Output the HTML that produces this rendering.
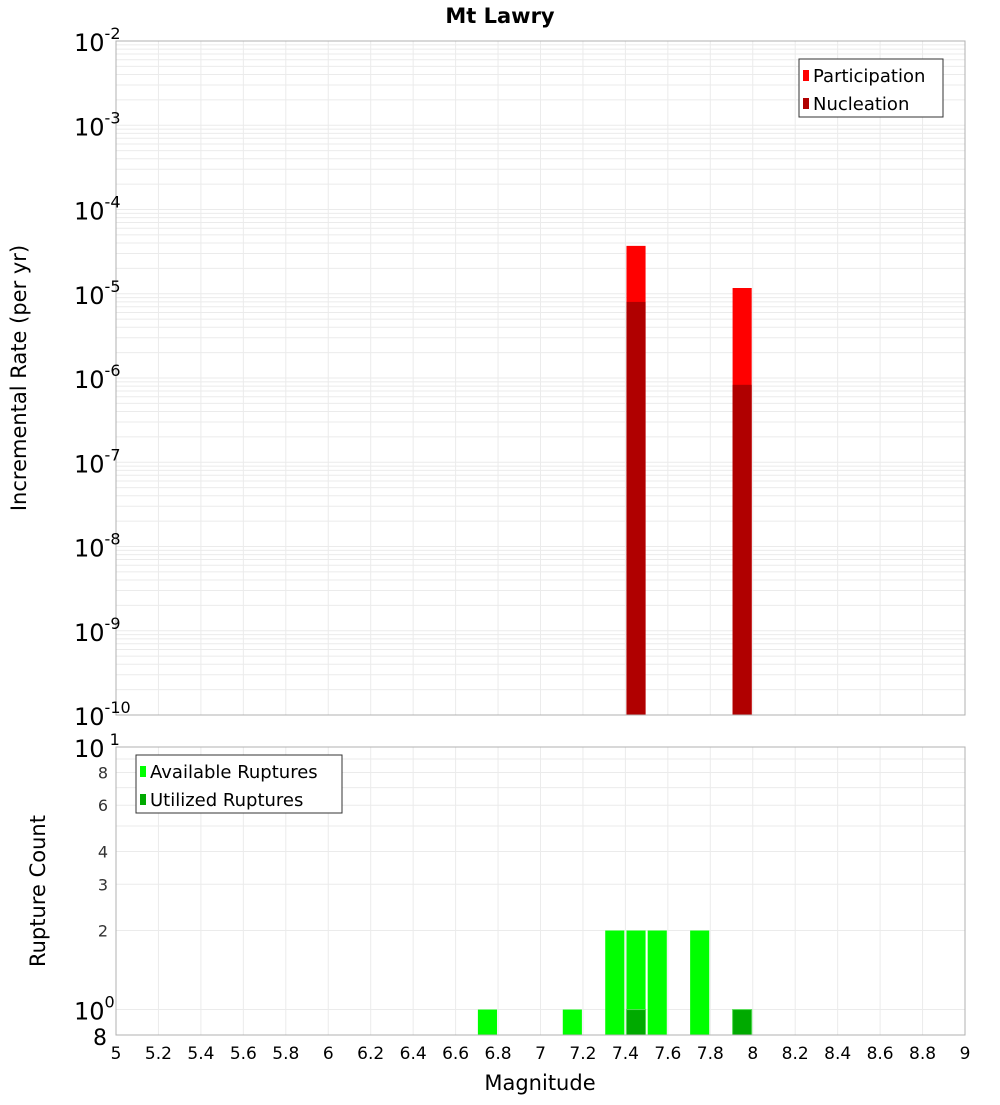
<!DOCTYPE html>
<html><head><meta charset="utf-8"><style>
body{margin:0;background:#fff;width:1000px;height:1100px;overflow:hidden}
svg{font-family:"DejaVu Sans","Liberation Sans",sans-serif}
</style></head><body>
<svg id="c" width="1000" height="1100"></svg>
<script>
const mags=[6.75,7.15,7.35,7.45,7.55,7.75,7.95];
const available=[1,1,2,2,2,2,1];
const utilized=[0,0,0,1,0,0,1];
const rateMags=[7.45,7.95];
const participation=[3.7e-5,1.17e-5];
const nucleation=[8.0e-6,8.3e-7];
const xTicks=[5,5.2,5.4,5.6,5.8,6,6.2,6.4,6.6,6.8,7,7.2,7.4,7.6,7.8,8,8.2,8.4,8.6,8.8,9];
const topExp=[-2,-3,-4,-5,-6,-7,-8,-9,-10];
const botTicks=[8,6,4,3,2];

const NS="http://www.w3.org/2000/svg",svg=document.getElementById('c');
function el(t,a,p){const e=document.createElementNS(NS,t);for(const k in a)e.setAttribute(k,a[k]);(p||svg).appendChild(e);return e;}
const X0=116,X1=965;
const x=v=>X0+(v-5)/4*(X1-X0);
const T0=41,T1=715;
const yT=v=>T0+(-2-Math.log10(v))/8*(T1-T0);
const B0=747,B1=1035;
const yB=v=>B0+(1-Math.log10(v))/(1-Math.log10(0.8))*(B1-B0);
const bw=0.09;

// grids
const g=el('g',{});

for(const t of xTicks){for(const [a,b] of [[T0,T1],[B0,B1]])el('line',{x1:x(t),x2:x(t),y1:a,y2:b,stroke:'#ebebeb'},g);}
for(let e=-10;e<-2;e++)for(let m=1;m<10;m++){const yy=yT(m*Math.pow(10,e));el('line',{x1:X0,x2:X1,y1:yy,y2:yy,stroke:'#ebebeb'},g);}
for(const v of [1,2,3,4,5,6,7,8,9]){const yy=yB(v);el('line',{x1:X0,x2:X1,y1:yy,y2:yy,stroke:'#ebebeb'},g);}

// top bars
rateMags.forEach((m,i)=>{
 let r=el('rect',{x:x(m-bw/2),y:yT(participation[i]),width:x(m+bw/2)-x(m-bw/2),height:T1-yT(participation[i]),fill:'#ff0000'});
 
 r=el('rect',{x:x(m-bw/2),y:yT(nucleation[i]),width:x(m+bw/2)-x(m-bw/2),height:T1-yT(nucleation[i]),fill:'#b00000'});
 
});
// bottom bars
mags.forEach((m,i)=>{
 if(available[i]>0){const r=el('rect',{x:x(m-bw/2),y:yB(available[i]),width:x(m+bw/2)-x(m-bw/2),height:B1-yB(available[i]),fill:'#00ff00'});
 }
 if(utilized[i]>0){const r=el('rect',{x:x(m-bw/2),y:yB(utilized[i]),width:x(m+bw/2)-x(m-bw/2),height:B1-yB(utilized[i]),fill:'#00aa00',stroke:'#55dd55','stroke-width':1});
 }
});
// frames
el('rect',{x:X0,y:T0,width:X1-X0,height:T1-T0,fill:'none',stroke:'#b0b0b0'});
el('rect',{x:X0,y:B0,width:X1-X0,height:B1-B0,fill:'none',stroke:'#b0b0b0'});

// top y ticks
topExp.forEach(e=>{
 const t=el('text',{x:74,y:yT(Math.pow(10,e))+10,'font-size':24,fill:'#000'});
 
 t.textContent='10';
 const s=el('tspan',{dy:-12,'font-size':16},t);s.textContent=String(e);
});
// bottom y ticks
[[1,'10',' 1'],[1/1,null,null]].length;
let t=el('text',{x:74,y:B0+10,'font-size':24});t.textContent='10';el('tspan',{dy:-12,'font-size':16},t).textContent=' 1';

t=el('text',{x:74,y:yB(1)+10,'font-size':24});t.textContent='10';el('tspan',{dy:-12,'font-size':16},t).textContent='0';

t=el('text',{x:107,y:B1+10,'font-size':22,'text-anchor':'end'});t.textContent='8';

botTicks.forEach(v=>{const tt=el('text',{x:108,y:yB(v)+6,'font-size':16,'text-anchor':'end',fill:'#333'});tt.textContent=String(v);
 });
// x ticks
xTicks.forEach(v=>{const tt=el('text',{x:x(v),y:1059,'font-size':17,'text-anchor':'middle'});tt.textContent=String(v);
 });

// titles
t=el('text',{x:500,y:23,'font-size':21,'font-weight':'bold','text-anchor':'middle'});t.textContent='Mt Lawry';
t=el('text',{x:540,y:1090,'font-size':21,'text-anchor':'middle'});t.textContent='Magnitude';
t=el('text',{x:0,y:0,'font-size':21,'text-anchor':'middle',transform:'translate(26,378) rotate(-90)'});t.textContent='Incremental Rate (per yr)';
t=el('text',{x:0,y:0,'font-size':21,'text-anchor':'middle',transform:'translate(45,891) rotate(-90)'});t.textContent='Rupture Count';

// legends
function legend(x0,y0,w,h,items,name){
 const lg=el('g',{});
 el('rect',{x:x0,y:y0,width:w,height:h,fill:'#fff',stroke:'#333'},lg);
 items.forEach((it,i)=>{
  el('rect',{x:x0+4,y:y0+11+i*28,width:6,height:11,fill:it[1]},lg);
  const tx=el('text',{x:x0+14,y:y0+23+i*28,'font-size':18},lg);tx.textContent=it[0];
 });
}
legend(799,59,144,58,[['Participation','#ff0000'],['Nucleation','#b00000']],'rate-legend');
legend(136,755,206,58,[['Available Ruptures','#00ff00'],['Utilized Ruptures','#00aa00']],'count-legend');
</script>
</body></html>
